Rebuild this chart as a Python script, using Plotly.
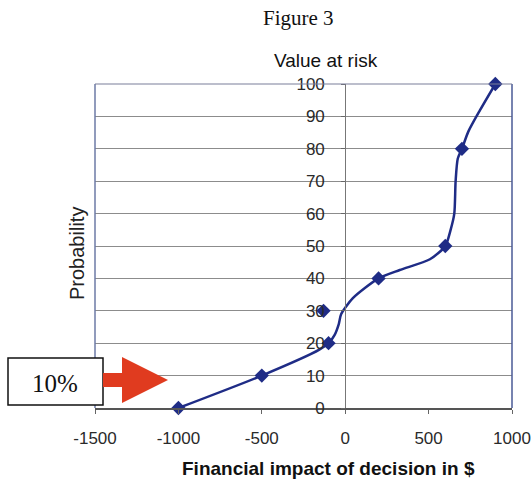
import plotly.graph_objects as go

# Smoothed cumulative curve of the value-at-risk distribution
curve_x = [-1000, -500, -155, -100, -64, -38, -24, 46, 200, 327, 508, 600,
           632, 654, 662, 675, 700, 738, 809, 900]
curve_y = [0, 10, 18, 20, 22.5, 26, 29, 33.9, 40, 42.6, 45.9, 50,
           55, 60, 70, 77, 80, 85.3, 92, 100]

# Marked observations
point_x = [-1000, -500, -100, -130, 200, 600, 700, 900]
point_y = [0, 10, 20, 30, 40, 50, 80, 100]

x_ticks = [-1500, -1000, -500, 0, 500, 1000]
x_labels = ["-1500", "-1000", "-500", "0", "500", "1000"]
y_ticks = [0, 10, 20, 30, 40, 50, 60, 70, 80, 90, 100]

W, H = 531, 481
L, R, T, B = 95, 19, 84, 73
PW, PH = W - L - R, H - T - B


def px(x):
    return (x - L) / PW


def py(y):
    return (H - B - y) / PH


navy = "#1f2c86"
fig = go.Figure()
fig.add_trace(go.Scatter(
    x=curve_x, y=curve_y, mode="lines",
    line=dict(color=navy, width=2.5, shape="spline", smoothing=0.7),
    cliponaxis=False, hoverinfo="skip", showlegend=False))
fig.add_trace(go.Scatter(
    x=point_x, y=point_y, mode="markers",
    marker=dict(symbol="diamond", size=11, color=navy),
    cliponaxis=False, showlegend=False))

axis_font = dict(family="Liberation Sans, Arial", size=17, color="#2a2a2a")
fig.update_layout(
    width=W, height=H,
    margin=dict(l=L, r=R, t=T, b=B),
    paper_bgcolor="white", plot_bgcolor="white",
    xaxis=dict(range=[-1500, 1000], tickvals=x_ticks, ticktext=x_labels,
               showgrid=False, automargin=False,
               zeroline=False, showline=True, linecolor="#555", linewidth=1.5,
               ticks="outside", ticklen=4, tickcolor="#666",
               tickfont=axis_font, ticklabelstandoff=10),
    yaxis=dict(range=[0, 100], tickvals=y_ticks, anchor="free", position=0.6,
               showgrid=True, gridcolor="#8c8c8c", gridwidth=1, automargin=False,
               zeroline=False, showline=True, linecolor="#777", linewidth=1,
               ticks="outside", ticklen=4, tickcolor="#666",
               tickfont=axis_font, ticklabelstandoff=13),
    shapes=[
        # plot frame
        dict(type="line", xref="paper", yref="paper", x0=0, x1=0, y0=0, y1=1,
             line=dict(color="#6d7aa6", width=1.5)),
        dict(type="line", xref="paper", yref="paper", x0=1, x1=1, y0=0, y1=1,
             line=dict(color="#4a5a96", width=1.5)),
        dict(type="line", xref="paper", yref="paper", x0=0, x1=1, y0=1, y1=1,
             line=dict(color="#7a7f99", width=1.2)),
        # 10% callout box
        dict(type="rect", xref="paper", yref="paper",
             x0=px(8), x1=px(103), y0=py(405), y1=py(358),
             line=dict(color="#111", width=1.5), fillcolor="white"),
        # red arrow
        dict(type="path", xref="paper", yref="paper",
             path=(f"M {px(103)} {py(373)} L {px(122)} {py(373)} "
                   f"L {px(122)} {py(357)} L {px(168)} {py(380)} "
                   f"L {px(122)} {py(403)} L {px(122)} {py(387)} "
                   f"L {px(103)} {py(387)} Z"),
             line=dict(width=0), fillcolor="#e03b1f"),
    ],
)

labels = [
    ("Figure 3", 298, 18, 0, dict(family="Liberation Serif, Times New Roman",
                                  size=21, color="#111")),
    ("Value at risk", 326, 61, 0, dict(family="Liberation Sans, Arial",
                                       size=19, color="#111")),
    ("Probability", 77, 254, -90, dict(family="Liberation Sans, Arial",
                                       size=20, color="#222")),
    ("<b>Financial impact of decision in $</b>", 328, 468, 0,
     dict(family="Liberation Sans, Arial", size=19, color="#111")),
    ("10%", 55, 383, 0, dict(family="Liberation Serif, Times New Roman",
                             size=25, color="#111")),
]
for text, x, y, angle, font in labels:
    fig.add_annotation(text=text, xref="paper", yref="paper", x=px(x), y=py(y),
                       xanchor="center", yanchor="middle", textangle=angle,
                       showarrow=False, font=font)

fig.write_html("out.html")
